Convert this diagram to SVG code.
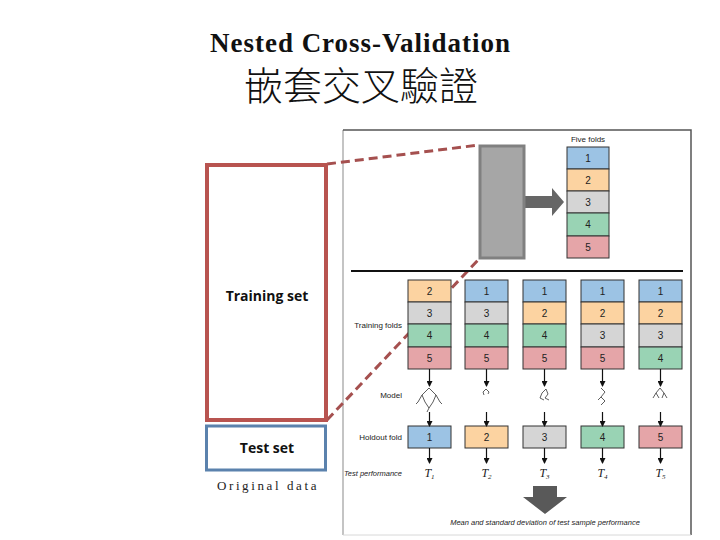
<svg xmlns="http://www.w3.org/2000/svg" width="720" height="540" viewBox="0 0 720 540">
<style>
.ttl{font-family:"Liberation Serif","Times New Roman",serif;font-weight:bold;font-size:27px;fill:#111}
.cjk{font-family:"Noto Sans CJK TC","Noto Sans CJK SC",sans-serif;font-weight:300;font-size:39px;fill:#111}
.set{font-family:"Open Sans","Liberation Sans",sans-serif;font-weight:bold;font-size:14px;fill:#111}
.orig{font-family:"Liberation Serif",serif;font-size:13px;letter-spacing:2.6px;fill:#222}
.lbl{font-family:"Liberation Sans",sans-serif;font-size:8px;fill:#222}
.ital{font-family:"Liberation Sans",sans-serif;font-size:7.5px;font-style:italic;fill:#222}
.num{font-family:"Liberation Sans",sans-serif;font-size:10px;fill:#222;text-anchor:middle}
.tv{font-family:"Liberation Serif",serif;font-style:italic;font-size:12px;fill:#222;text-anchor:middle}
.c1{fill:#9cc3e4;stroke:#333;stroke-width:1}
.c2{fill:#fcd3a1;stroke:#333;stroke-width:1}
.c3{fill:#d5d5d5;stroke:#333;stroke-width:1}
.c4{fill:#99d3b4;stroke:#333;stroke-width:1}
.c5{fill:#e5a5a8;stroke:#333;stroke-width:1}
.ar{stroke:#111;stroke-width:1.2;fill:none;marker-end:url(#ah)}
.dash{stroke:#a5504f;stroke-width:3;stroke-dasharray:9 5;fill:none}
.tree{stroke:#333;stroke-width:0.8;fill:none}
</style>
<defs>
<marker id="ah" markerWidth="6" markerHeight="6" refX="5" refY="3" orient="auto" markerUnits="userSpaceOnUse">
<path d="M0,0 L6,3 L0,6 Z" fill="#111"/>
</marker>
</defs>
<rect width="720" height="540" fill="#fff"/>

<g id="title">
<text class="ttl" x="360" y="52" text-anchor="middle" textLength="300" lengthAdjust="spacing">Nested Cross-Validation</text>
<text class="cjk" x="361" y="100" text-anchor="middle">嵌套交叉驗證</text>
</g>

<g id="frame">
<line x1="343" y1="130" x2="343" y2="535" stroke="#b0b0b0" stroke-width="1.5"/>
<polyline points="343,130 691,130 691,535" fill="none" stroke="#555" stroke-width="1.5"/>
<line x1="343" y1="535" x2="691" y2="535" stroke="#d8d8d8" stroke-width="1"/>
</g>

<g id="connectors">
<line class="dash" x1="327" y1="164" x2="479" y2="145"/>
<line class="dash" x1="327" y1="420" x2="479" y2="259"/>
<path d="M525,196 H552 V188 L564,202 L552,216 V208 H525 Z" fill="#666"/>
<line x1="351" y1="271" x2="683" y2="271" stroke="#111" stroke-width="1.8"/>
<path d="M533,486 H557 V497 H567 L545,514 L523,497 H533 Z" fill="#595959"/>
</g>

<g id="original-data">
<rect x="207" y="165" width="119" height="255" fill="#fff" stroke="#b85450" stroke-width="4"/>
<text class="set" x="267" y="301" text-anchor="middle">Training set</text>
<rect x="206.5" y="426" width="119" height="44" fill="#fff" stroke="#5b82ad" stroke-width="3"/>
<text class="set" x="267" y="453" text-anchor="middle">Test set</text>
<text class="orig" x="268" y="490" text-anchor="middle">Original data</text>
</g>

<g id="data-block">
<rect x="480" y="146" width="44" height="112" fill="#a6a6a6" stroke="#808080" stroke-width="3"/>
</g>

<g id="five-folds">
<text class="lbl" x="588" y="142" text-anchor="middle">Five folds</text>
<rect class="c1" x="567" y="147" width="42" height="22"/><text class="num" x="588" y="162">1</text>
<rect class="c2" x="567" y="169" width="42" height="22"/><text class="num" x="588" y="184">2</text>
<rect class="c3" x="567" y="191" width="42" height="22"/><text class="num" x="588" y="206">3</text>
<rect class="c4" x="567" y="213" width="42" height="23"/><text class="num" x="588" y="228">4</text>
<rect class="c5" x="567" y="236" width="42" height="22"/><text class="num" x="588" y="251">5</text>
</g>

<g id="row-labels">
<text class="lbl" x="402" y="328" text-anchor="end">Training folds</text>
<text class="lbl" x="402" y="398" text-anchor="end">Model</text>
<text class="lbl" x="402" y="440" text-anchor="end">Holdout fold</text>
<text class="ital" x="402" y="476" text-anchor="end">Test performance</text>
</g>

<g id="split-1">
<rect class="c2" x="408" y="280" width="43" height="22"/><text class="num" x="429.5" y="295">2</text>
<rect class="c3" x="408" y="302" width="43" height="22"/><text class="num" x="429.5" y="317">3</text>
<rect class="c4" x="408" y="324" width="43" height="23"/><text class="num" x="429.5" y="339">4</text>
<rect class="c5" x="408" y="347" width="43" height="22"/><text class="num" x="429.5" y="362">5</text>
<rect class="c1" x="408" y="426" width="43" height="22"/><text class="num" x="429.5" y="441">1</text>
<text class="tv" x="429.5" y="477">T<tspan font-size="7" dy="2">1</tspan></text>
</g>
<g id="split-2">
<rect class="c1" x="465" y="280" width="43" height="22"/><text class="num" x="486.5" y="295">1</text>
<rect class="c3" x="465" y="302" width="43" height="22"/><text class="num" x="486.5" y="317">3</text>
<rect class="c4" x="465" y="324" width="43" height="23"/><text class="num" x="486.5" y="339">4</text>
<rect class="c5" x="465" y="347" width="43" height="22"/><text class="num" x="486.5" y="362">5</text>
<rect class="c2" x="465" y="426" width="43" height="22"/><text class="num" x="486.5" y="441">2</text>
<text class="tv" x="486.5" y="477">T<tspan font-size="7" dy="2">2</tspan></text>
</g>
<g id="split-3">
<rect class="c1" x="523" y="280" width="43" height="22"/><text class="num" x="544.5" y="295">1</text>
<rect class="c2" x="523" y="302" width="43" height="22"/><text class="num" x="544.5" y="317">2</text>
<rect class="c4" x="523" y="324" width="43" height="23"/><text class="num" x="544.5" y="339">4</text>
<rect class="c5" x="523" y="347" width="43" height="22"/><text class="num" x="544.5" y="362">5</text>
<rect class="c3" x="523" y="426" width="43" height="22"/><text class="num" x="544.5" y="441">3</text>
<text class="tv" x="544.5" y="477">T<tspan font-size="7" dy="2">3</tspan></text>
</g>
<g id="split-4">
<rect class="c1" x="581" y="280" width="43" height="22"/><text class="num" x="602.5" y="295">1</text>
<rect class="c2" x="581" y="302" width="43" height="22"/><text class="num" x="602.5" y="317">2</text>
<rect class="c3" x="581" y="324" width="43" height="23"/><text class="num" x="602.5" y="339">3</text>
<rect class="c5" x="581" y="347" width="43" height="22"/><text class="num" x="602.5" y="362">5</text>
<rect class="c4" x="581" y="426" width="43" height="22"/><text class="num" x="602.5" y="441">4</text>
<text class="tv" x="602.5" y="477">T<tspan font-size="7" dy="2">4</tspan></text>
</g>
<g id="split-5">
<rect class="c1" x="639" y="280" width="43" height="22"/><text class="num" x="660.5" y="295">1</text>
<rect class="c2" x="639" y="302" width="43" height="22"/><text class="num" x="660.5" y="317">2</text>
<rect class="c3" x="639" y="324" width="43" height="23"/><text class="num" x="660.5" y="339">3</text>
<rect class="c4" x="639" y="347" width="43" height="22"/><text class="num" x="660.5" y="362">4</text>
<rect class="c5" x="639" y="426" width="43" height="22"/><text class="num" x="660.5" y="441">5</text>
<text class="tv" x="660.5" y="477">T<tspan font-size="7" dy="2">5</tspan></text>
</g>

<g id="models">
<path class="tree" d="M429,388 L422,395 L418,402 M429,388 L436,395 L440,402 M422,395 L425,402 M436,395 L433,402 M425,402 L429,408 L427,412 M433,402 L429,408 M418,402 L416,404 M440,402 L442,404"/>
<path class="tree" d="M486,389 L483,392 L484,395 M486,389 L489,392 L488,394"/>
<path class="tree" d="M546,389 L542,393 L540,398 M546,389 L548,394 L545,398 L549,400 M540,398 L544,400"/>
<path class="tree" d="M601,388 L605,392 L601,397 L605,401 L601,405 M601,397 L598,400"/>
<path class="tree" d="M660,388 L656,393 L653,398 M660,388 L664,393 L667,398 M656,393 L659,398 M664,393 L662,398"/>
</g>

<g id="arrows">
<line class="ar" x1="429.5" y1="369" x2="429.5" y2="386"/>
<line class="ar" x1="486.5" y1="369" x2="486.5" y2="386"/>
<line class="ar" x1="544.5" y1="369" x2="544.5" y2="386"/>
<line class="ar" x1="602.5" y1="369" x2="602.5" y2="386"/>
<line class="ar" x1="660.5" y1="369" x2="660.5" y2="386"/>
<line class="ar" x1="429.5" y1="412" x2="429.5" y2="426"/>
<line class="ar" x1="486.5" y1="412" x2="486.5" y2="426"/>
<line class="ar" x1="544.5" y1="412" x2="544.5" y2="426"/>
<line class="ar" x1="602.5" y1="412" x2="602.5" y2="426"/>
<line class="ar" x1="660.5" y1="412" x2="660.5" y2="426"/>
<line class="ar" x1="429.5" y1="448" x2="429.5" y2="463"/>
<line class="ar" x1="486.5" y1="448" x2="486.5" y2="463"/>
<line class="ar" x1="544.5" y1="448" x2="544.5" y2="463"/>
<line class="ar" x1="602.5" y1="448" x2="602.5" y2="463"/>
<line class="ar" x1="660.5" y1="448" x2="660.5" y2="463"/>
</g>

<g id="caption">
<text class="ital" x="545" y="525" text-anchor="middle">Mean and standard deviation of test sample performance</text>
</g>
</svg>
